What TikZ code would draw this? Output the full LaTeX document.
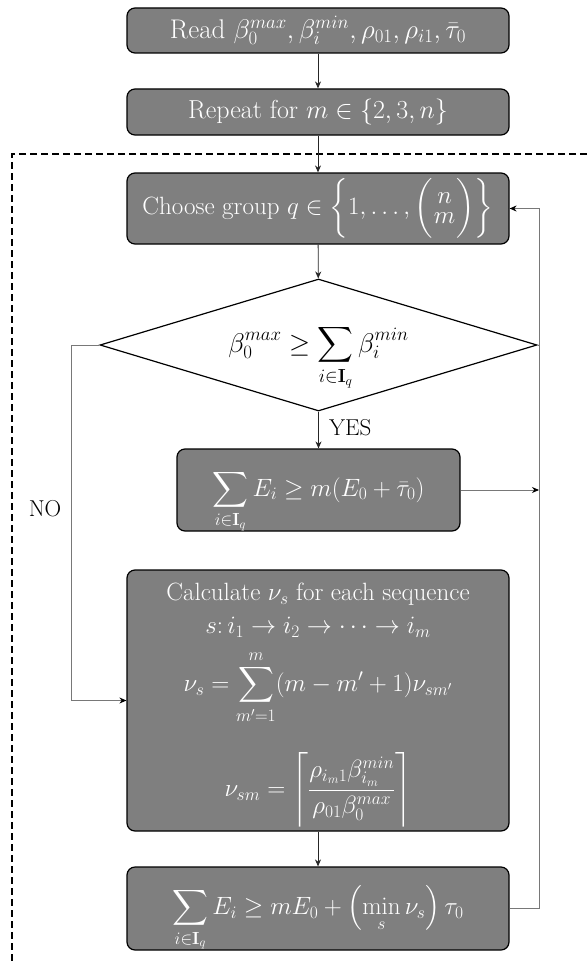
\documentclass[tikz,border=0pt]{standalone}
\usepackage{fix-cm}
\usepackage{amsmath}
\usetikzlibrary{shapes.geometric,arrows.meta}
\definecolor{boxgray}{RGB}{127,127,127}
\definecolor{linegray}{RGB}{120,120,120}
\begin{document}
\begin{tikzpicture}[x=1pt,y=-1pt,
  procbox/.style={draw=black, line width=1.2pt, fill=boxgray, rounded corners=8pt,
    text=white, minimum width=382pt, inner sep=0pt, align=center,
    font=\fontsize{25}{30}\selectfont},
  decbox/.style={diamond, draw=black, line width=1.2pt, fill=white, shape aspect=3.3,
    minimum width=437pt, minimum height=132pt, inner sep=0pt,
    font=\fontsize{27}{32}\selectfont},
  lbl/.style={font=\fontsize{23}{28}\selectfont, inner sep=0pt},
  conn/.style={draw=black!85, line width=0.8pt, -{Stealth[length=7pt,width=6pt]}},
  loopconn/.style={draw=linegray, line width=0.9pt, -{Stealth[length=7pt,width=6pt,color=black]}},
  loopline/.style={draw=linegray, line width=0.9pt},
  frame/.style={draw=black, line width=1.1pt, dash pattern=on 7pt off 4pt},
]
\useasboundingbox (0,0) rectangle (587,963);

\coordinate (rx) at (539,0);
\coordinate (nx) at (71,0);

\node[procbox, minimum height=45pt, font=\fontsize{27}{30}\selectfont] (read) at (318,30.5)
  {Read $\beta_0^{max}, \beta_i^{min}, \rho_{01}, \rho_{i1}, \bar{\tau}_0$};
\node[procbox, minimum height=46pt, font=\fontsize{26}{30}\selectfont] (repeat) at (318,112)
  {Repeat for $m \in \{2,3,n\}$};

\draw[frame] (587,154) -- (12,154) -- (12,963);

\node[procbox, minimum height=71pt, font=\fontsize{25}{30}\selectfont] (choose) at (318,208.5)
  {Choose group $q \in \biggl\{1,\dots,\biggl(\genfrac{}{}{0pt}{1}{\textstyle n}{\textstyle m}\biggr)\biggr\}$};
\node[decbox, text height=28pt, text depth=14pt] (cond) at (318.5,345)
  {$\displaystyle \beta_0^{max} \ge \sum_{i\in\mathbf{I}_q}\beta_i^{min}$};
\node[procbox, minimum width=283pt, minimum height=82pt, font=\fontsize{25}{29}\selectfont,
      text height=32pt, text depth=20pt] (check1) at (318.5,490)
  {$\displaystyle\sum_{i\in\mathbf{I}_q} E_i \ge m(E_0+\bar{\tau}_0)$};
\node[procbox, minimum height=261pt] (calc) at (318,700.5)
  {\rule{0pt}{27pt}Calculate $\nu_s$ for each sequence\\[3pt]
   $s{:}\,i_1\to i_2\to\cdots\to i_m$\\[12pt]
   $\displaystyle \nu_s=\sum_{m'=1}^{m}(m-m'+1)\nu_{sm'}$\\[28pt]
   $\displaystyle \nu_{sm}=\left\lceil\frac{\rho_{i_m1}\beta_{i_m}^{min}}{\rho_{01}\beta_0^{max}}\right\rceil$};
\node[procbox, minimum height=83pt, text height=32pt, text depth=20pt] (check2) at (318,908.5)
  {$\displaystyle\sum_{i\in\mathbf{I}_q}E_i \ge mE_0+\left(\min_s \nu_s\right)\tau_0$};

\node[lbl, anchor=west] (yes) at (329,428) {YES};
\node[lbl] (no) at (45,509) {NO};

\draw[conn] (read) -- (repeat);
\draw[conn] (repeat) -- (choose);
\draw[conn] (choose) -- (cond);
\draw[conn] (cond) -- (check1);
\draw[conn] (calc) -- (check2);
\draw[loopconn] (check1.east) -- (check1.east -| rx);
\draw[loopconn] (check2.east) -- (check2.east -| rx) |- (choose.east);
\draw[loopconn] (cond.west) -- (cond.west -| nx) |- (calc.west);
\draw[loopline] (cond.east) -- (cond.east -| rx);
\end{tikzpicture}
\end{document}
